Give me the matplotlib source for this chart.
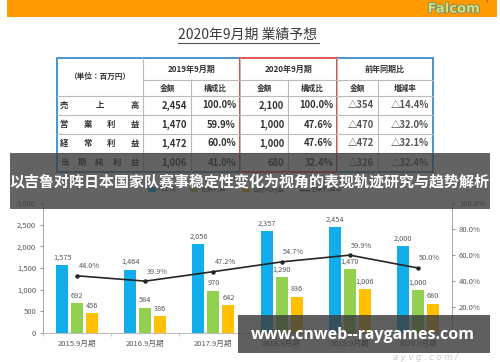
import numpy as np
import matplotlib.pyplot as plt
from matplotlib.patches import Rectangle
from matplotlib.ticker import FuncFormatter, FixedLocator
import matplotlib.patheffects as pe

plt.rcParams['font.family'] = ['Noto Sans CJK JP', 'DejaVu Sans']

# chart data
periods = ["2015.9月期", "2016.9月期", "2017.9月期", "2018.9月期", "2019.9月期", "2020.9月期"]
sales = [1575, 1464, 2056, 2357, 2454, 2000]
op_profit = [692, 584, 970, 1290, 1470, 1000]
net_profit = [456, 386, 642, 836, 1006, 680]
op_margin = [44.0, 39.9, 47.2, 54.7, 59.9, 50.0]
legend_names = ["売上高", "営業利益", "当期純利益", "営業利益率"]

# table data
row_labels = ["売上高", "営業利益", "経常利益", "当期純利益"]
sub_heads = ["金額", "構成比", "金額", "構成比", "金額", "増減率"]
group_heads = ["2019年9月期", "2020年9月期", "前年同期比"]
table_vals = [
    ["2,454", "100.0%", "2,100", "100.0%", "△354", "△14.4%"],
    ["1,470", "59.9%", "1,000", "47.6%", "△470", "△32.0%"],
    ["1,472", "60.0%", "1,000", "47.6%", "△472", "△32.1%"],
    ["1,006", "41.0%", "680", "32.4%", "△326", "△32.4%"],
]

banner_text = "以吉鲁对阵日本国家队赛事稳定性变化为视角的表现轨迹研究与趋势解析"
watermark = "www.cnweb--raygames.com"

c_blue, c_green, c_yellow = "#12ADEB", "#92D050", "#FFC000"
c_gray = "#595959"

fig = plt.figure(figsize=(5.0, 3.62), dpi=100)

# ---- background layer: header bar, title, table (pixel coords)
bg = fig.add_axes([0, 0, 1, 1], zorder=0)
bg.set_xlim(0, 500)
bg.set_ylim(362, 0)
bg.axis("off")

bg.add_patch(Rectangle((7, 0), 490, 17, color="#FF9900", lw=0))
bg.text(454, 9, "Falcom", ha="center", va="center", fontsize=9.5, fontweight="bold",
        color="#CFE27A", family="DejaVu Sans",
        path_effects=[pe.withStroke(linewidth=1.2, foreground="#7A8A6A")])
bg.text(487, 4, "®", fontsize=3.5, color="#555555", ha="center", va="center")

bg.text(248, 35, "2020年9月期 業績予想", ha="center", va="center", fontsize=10, color="#3A3A3A")
bg.plot([178, 319], [43, 43], color="#555555", lw=0.8)

xs = [57, 143, 191, 240, 288, 337, 378, 433]
ys = [58, 80, 96, 115, 134, 153, 172]
grid_c = "#BBBBBB"
# horizontal grid lines
for y in ys[2:-1]:
    bg.plot([xs[0], xs[-1]], [y, y], color=grid_c, lw=0.8)
bg.plot([xs[1], xs[-1]], [ys[1], ys[1]], color=grid_c, lw=0.8)
for x in xs[1:-1]:
    y0 = ys[0] if x in (xs[1], xs[3], xs[5]) else ys[1]
    bg.plot([x, x], [y0, ys[-1]], color=grid_c, lw=0.8)
# coloured borders
bg.add_patch(Rectangle((xs[0], ys[0]), xs[3] - xs[0], ys[-1] - ys[0], fill=False, ec="#3D8BC9", lw=1.3))
bg.add_patch(Rectangle((xs[5], ys[0]), xs[7] - xs[5], ys[-1] - ys[0], fill=False, ec="#3D8BC9", lw=1.3))
bg.add_patch(Rectangle((xs[3], ys[0]), xs[5] - xs[3], ys[-1] - ys[0], fill=False, ec="#E04848", lw=1.3))

tc = "#333333"
bg.text((xs[0] + xs[1]) / 2, 76, "（単位：百万円）", ha="center", va="center", fontsize=5.5,
        color=tc, fontweight="bold")
for i, h in enumerate(group_heads):
    bg.text((xs[1 + 2 * i] + xs[3 + 2 * i]) / 2, 69, h, ha="center", va="center",
            fontsize=5.8, color=tc, fontweight="bold")
for i, h in enumerate(sub_heads):
    bg.text((xs[1 + i] + xs[2 + i]) / 2, 88, h, ha="center", va="center",
            fontsize=5.5, color=tc, fontweight="bold")
for r, lab in enumerate(row_labels):
    yc = (ys[2 + r] + ys[3 + r]) / 2
    chars = list(lab)
    pos = np.linspace(64, 135, len(chars))
    for ch, px in zip(chars, pos):
        bg.text(px, yc, ch, ha="center", va="center", fontsize=6, color=tc, fontweight="bold")
    for c, v in enumerate(table_vals[r]):
        bg.text(xs[2 + c] - 4, yc, v, ha="right", va="center", fontsize=6.8,
                color=tc if c < 4 else "#555555", fontweight="bold")

# legend (sits under the banner)
lx = [148, 190, 242, 300]
for i, name in enumerate(legend_names):
    if i < 3:
        bg.add_patch(Rectangle((lx[i], 187), 8, 5, color=[c_blue, c_green, c_yellow][i], lw=0))
    else:
        bg.plot([lx[i], lx[i] + 9], [189.5, 189.5], color="#222222", lw=1)
    bg.text(lx[i] + 10, 189.5, name, ha="left", va="center", fontsize=4.6, color=c_gray)

# ---- chart
ax = fig.add_axes([43 / 500, 29 / 362, 409 / 500, 130 / 362], zorder=1)
ax.patch.set_alpha(0)
x = np.arange(len(periods))
w = 0.176
step = 0.22
series = [(sales, c_blue, -step), (op_profit, c_green, 0), (net_profit, c_yellow, step)]
for vals, col, off in series:
    bars = ax.bar(x + off, vals, width=w, color=col, zorder=2)
    for b, v in zip(bars, vals):
        ax.annotate(f"{v:,}", (b.get_x() + b.get_width() / 2, v), xytext=(0, 2.5),
                    textcoords="offset points", ha="center", va="bottom",
                    fontsize=5.3, color=c_gray)

ax.set_xlim(-0.5, 5.5)
ax.set_ylim(0, 3000)
ax.set_yticks(np.arange(0, 3001, 500))
ax.yaxis.set_major_formatter(FuncFormatter(lambda v, p: f"{int(v):,}"))
ax.set_xticks(x)
ax.set_xticklabels(periods)
ax.xaxis.set_minor_locator(FixedLocator(np.arange(-0.5, 6, 1)))
ax.tick_params(axis="x", which="major", length=0, pad=5, labelsize=5.5, labelcolor=c_gray)
ax.tick_params(axis="x", which="minor", length=2, color="#BBBBBB")
ax.tick_params(axis="y", length=2, pad=3, labelsize=5.5, labelcolor=c_gray, color="#999999")
for s in ["top", "right"]:
    ax.spines[s].set_visible(False)
ax.spines["left"].set_color("#999999")
ax.spines["bottom"].set_color("#BBBBBB")
ax.spines["left"].set_linewidth(0.6)
ax.spines["bottom"].set_linewidth(0.8)

ax2 = ax.twinx()
ax2.set_ylim(0, 1)
ax2.set_yticks(np.arange(0, 1.01, 0.2))
ax2.yaxis.set_major_formatter(FuncFormatter(lambda v, p: f"{v * 100:.1f}%"))
ax2.tick_params(axis="y", length=2, pad=3, labelsize=5.5, labelcolor=c_gray, color="#999999")
for s in ["top", "left", "bottom"]:
    ax2.spines[s].set_visible(False)
ax2.spines["right"].set_color("#999999")
ax2.spines["right"].set_linewidth(0.6)
m = np.array(op_margin) / 100
ax2.plot(x, m, color="#262626", lw=1.2, marker="o", ms=2.2, zorder=3)
for xi, v in zip(x, op_margin):
    ax2.annotate(f"{v:.1f}%", (xi, v / 100), xytext=(1, 4), textcoords="offset points",
                 ha="left", va="bottom", fontsize=5.3, color=c_gray)

# ---- overlay: banner and watermark
ov = fig.add_axes([0, 0, 1, 1], zorder=5)
ov.set_xlim(0, 500)
ov.set_ylim(362, 0)
ov.axis("off")
ov.patch.set_alpha(0)
ov.add_patch(Rectangle((10, 153), 480, 56, color="#3C3C3C", alpha=0.8, lw=0))
ov.text(250, 182, banner_text, ha="center", va="center", fontsize=10.8, color="white",
        fontweight="bold", family=["Noto Sans CJK SC", "DejaVu Sans"])
ov.add_patch(Rectangle((238, 315), 252, 38, color="#3C3C3C", alpha=0.82, lw=0))
ov.text(363, 335, watermark, ha="center", va="center", fontsize=11.5, color="white",
        fontweight="bold", family=["Open Sans", "DejaVu Sans"])
ov.text(425, 357, "a y v g . c o m /", ha="center", va="center", fontsize=6,
        color="#C8C8C8", style="italic", family="DejaVu Sans")

fig.savefig("out.png", dpi=100)
